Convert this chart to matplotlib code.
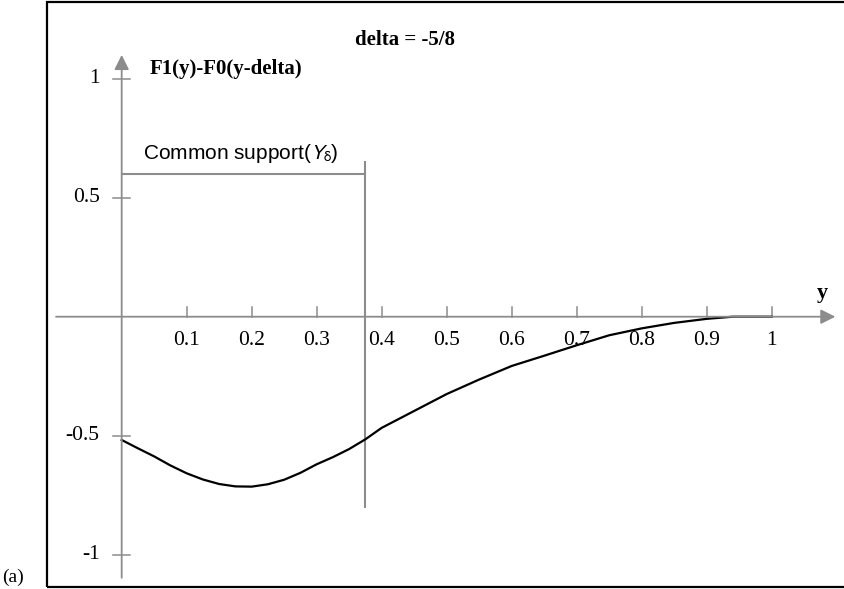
import matplotlib
matplotlib.use("Agg")
import matplotlib.pyplot as plt
from matplotlib.patches import Rectangle
import numpy as np

# F1(y) - F0(y - delta) sampled along y
y_vals = [0.0, 0.025, 0.05, 0.075, 0.1, 0.125, 0.15, 0.175, 0.2, 0.225, 0.25,
          0.275, 0.3, 0.325, 0.35, 0.375, 0.4, 0.45, 0.5, 0.55, 0.6, 0.65,
          0.7, 0.75, 0.8, 0.85, 0.9, 0.94, 1.0]
diff_vals = [-0.518, -0.553, -0.587, -0.625, -0.658, -0.684, -0.703, -0.713, -0.714,
             -0.704, -0.685, -0.656, -0.620, -0.590, -0.556, -0.515, -0.467, -0.396,
             -0.325, -0.264, -0.207, -0.164, -0.120, -0.078, -0.049, -0.026, -0.009,
             0.0, 0.0]

x_ticks = [0.1, 0.2, 0.3, 0.4, 0.5, 0.6, 0.7, 0.8, 0.9, 1.0]
x_tick_labels = ["0.1", "0.2", "0.3", "0.4", "0.5", "0.6", "0.7", "0.8", "0.9", "1"]
y_ticks = [1.0, 0.5, -0.5, -1.0]
y_tick_labels = ["1", "0.5", "-0.5", "-1"]

delta = -5 / 8
support_end = 1 + delta
support_level = 0.6

W, H = 845, 589
gray = "#8c8c8c"
serif = ["Liberation Serif", "DejaVu Serif"]

fig = plt.figure(figsize=(W / 100, H / 100), dpi=100)
ax = fig.add_axes([0, 0, 1, 1])
ax.set_xlim(-0.1872, 1.1128)
ax.set_ylim(-1.1441, 1.3307)
ax.axis("off")


def fpx(x, y):
    return x / W, 1 - y / H


# frame around the panel (right side runs off the page)
fig.patches.append(Rectangle(fpx(47, 587), (W + 10 - 47) / W, (587 - 2) / H,
                             transform=fig.transFigure, fill=False,
                             edgecolor="black", lw=1.6))

# axes with arrows
ax.annotate("", xy=(1.098, 0), xytext=(-0.101, 0),
            arrowprops=dict(arrowstyle="-|>", color=gray, lw=1.3,
                            mutation_scale=22, shrinkA=0, shrinkB=0))
ax.annotate("", xy=(0, 1.10), xytext=(0, -1.097),
            arrowprops=dict(arrowstyle="-|>", color=gray, lw=1.3,
                            mutation_scale=22, shrinkA=0, shrinkB=0))

tick_h = 10 / 238
tick_w = 8.5 / 650
for xt, lab in zip(x_ticks, x_tick_labels):
    ax.plot([xt, xt], [0, tick_h], color=gray, lw=1.1)
    ax.text(xt, -23.5 / 238, lab, ha="center", va="center",
            fontsize=15.5, family=serif)
for yt, lab in zip(y_ticks, y_tick_labels):
    ax.plot([-tick_w, tick_w], [yt, yt], color=gray, lw=1.1)
    ax.text(-22 / 650, yt, lab, ha="right", va="center",
            fontsize=15.5, family=serif)

# common support bracket
ax.plot([support_end, support_end], [-0.80, 0.651], color=gray, lw=1.5)
ax.plot([0, support_end], [support_level, support_level], color=gray, lw=1.5)
plt.rcParams["mathtext.fontset"] = "stixsans"
ax.text(0.033, 0.687, r"Common support($Y_{\mathrm{\delta}}$)", ha="left",
        va="center", fontsize=15, family=["Liberation Sans", "DejaVu Sans"])

# the curve
ax.plot(y_vals, diff_vals, color="black", lw=1.6)

# labels
fig.text(*fpx(150, 69), "F1(y)-F0(y-delta)", ha="left", va="center",
         fontsize=15, fontweight="bold", family=serif)
fig.text(*fpx(355, 40), "delta = -5/8", ha="left", va="center",
         fontsize=15, fontweight="bold", family=serif)
fig.text(*fpx(822, 293), "y", ha="center", va="center",
         fontsize=16, fontweight="bold", family=serif)
fig.text(*fpx(2, 586), "(a)", ha="left", va="bottom",
         fontsize=14, family=serif)

fig.savefig("out.png", dpi=100)
